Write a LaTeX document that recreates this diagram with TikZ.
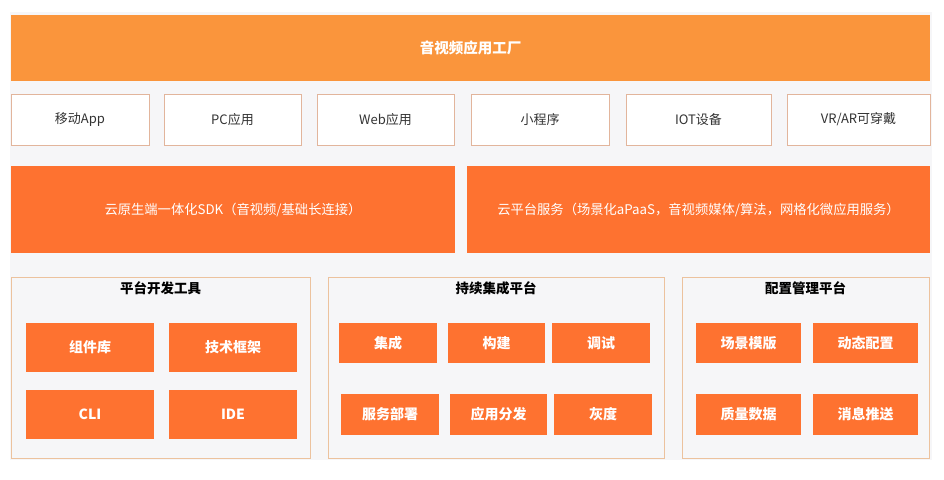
\documentclass[tikz,border=0pt]{standalone}
\usepackage{fontspec}
\setmainfont{Noto Sans CJK SC}
\definecolor{bgc}{HTML}{F6F6F8}
\definecolor{topor}{HTML}{FA953C}
\definecolor{mainor}{HTML}{FE7230}
\definecolor{wbord}{HTML}{E2B59C}
\definecolor{pbord}{HTML}{ECC29E}
\definecolor{txt}{HTML}{333333}
\begin{document}
\begin{tikzpicture}[x=1pt,y=-1pt,
  topbar/.style={fill=topor,draw=none,text=white,font=\fontsize{14.5}{16}\selectfont\bfseries,inner sep=0pt},
  appbox/.style={fill=white,draw=wbord,line width=0.8pt,text=txt,font=\fontsize{13}{15}\selectfont,minimum height=51pt,inner sep=0pt},
  layerbar/.style={fill=mainor,draw=none,text=white,font=\fontsize{13.3}{15}\selectfont,minimum height=87pt,inner sep=0pt},
  panel/.style={fill=bgc,draw=pbord,line width=0.8pt,minimum height=181pt,inner sep=0pt},
  ptitle/.style={text=black,font=\fontsize{13.5}{15}\selectfont\bfseries,inner sep=0pt},
  item/.style={fill=mainor,draw=none,text=white,font=\fontsize{14}{16}\selectfont\bfseries,inner sep=0pt}]
\useasboundingbox (0,0) rectangle (944,479);
\fill[white] (0,0) rectangle (944,479);
\fill[bgc] (10,12) rectangle (932,460);
% top bar
\node[topbar,minimum width=919pt,minimum height=66pt] (top) at (470.5,48) {音视频应用工厂};
% apps
\node[appbox,minimum width=138pt] (a1) at (80,119.5) {移动App};
\node[appbox,minimum width=137pt] (a2) at (232.5,119.5) {PC应用};
\node[appbox,minimum width=137pt] (a3) at (385.5,119.5) {Web应用};
\node[appbox,minimum width=138pt] (a4) at (540,119.5) {小程序};
\node[appbox,minimum width=145pt] (a5) at (698.5,119.5) {IOT设备};
\node[appbox,minimum width=143pt] (a6) at (858.5,119.5) {VR/AR可穿戴};
% layer bars
\node[layerbar,minimum width=444pt] (sdk) at (233,209.5) {云原生端一体化SDK（音视频/基础长连接）};
\node[layerbar,minimum width=463pt] (cloud) at (698.5,209.5) {云平台服务（场景化aPaaS，音视频媒体/算法，网格化微应用服务）};
% panels
\node[panel,minimum width=299pt] (p1) at (160.5,367.5) {};
\node[panel,minimum width=336pt] (p2) at (496,367.5) {};
\node[panel,minimum width=247pt] (p3) at (805.5,367.5) {};
\node[ptitle] (t1) at (160.5,288) {平台开发工具};
\node[ptitle] (t2) at (496,288) {持续集成平台};
\node[ptitle] (t3) at (805.5,288) {配置管理平台};
% panel 1 items
\node[item,minimum width=128pt,minimum height=49pt] (i11) at (90,347.5) {组件库};
\node[item,minimum width=128pt,minimum height=49pt] (i12) at (233,347.5) {技术框架};
\node[item,minimum width=128pt,minimum height=49pt] (i13) at (90,414.5) {CLI};
\node[item,minimum width=128pt,minimum height=49pt] (i14) at (233,414.5) {IDE};
% panel 2 items
\node[item,minimum width=98pt,minimum height=40pt] (i21) at (388,343) {集成};
\node[item,minimum width=97pt,minimum height=40pt] (i22) at (496.5,343) {构建};
\node[item,minimum width=98pt,minimum height=40pt] (i23) at (601,343) {调试};
\node[item,minimum width=98pt,minimum height=41pt] (i24) at (390,414.5) {服务部署};
\node[item,minimum width=97pt,minimum height=41pt] (i25) at (498.5,414.5) {应用分发};
\node[item,minimum width=98pt,minimum height=41pt] (i26) at (603,414.5) {灰度};
% panel 3 items
\node[item,minimum width=105pt,minimum height=40pt] (i31) at (748.5,343) {场景模版};
\node[item,minimum width=105pt,minimum height=40pt] (i32) at (865.5,343) {动态配置};
\node[item,minimum width=105pt,minimum height=41pt] (i33) at (748.5,414.5) {质量数据};
\node[item,minimum width=105pt,minimum height=41pt] (i34) at (865.5,414.5) {消息推送};
\end{tikzpicture}
\end{document}
